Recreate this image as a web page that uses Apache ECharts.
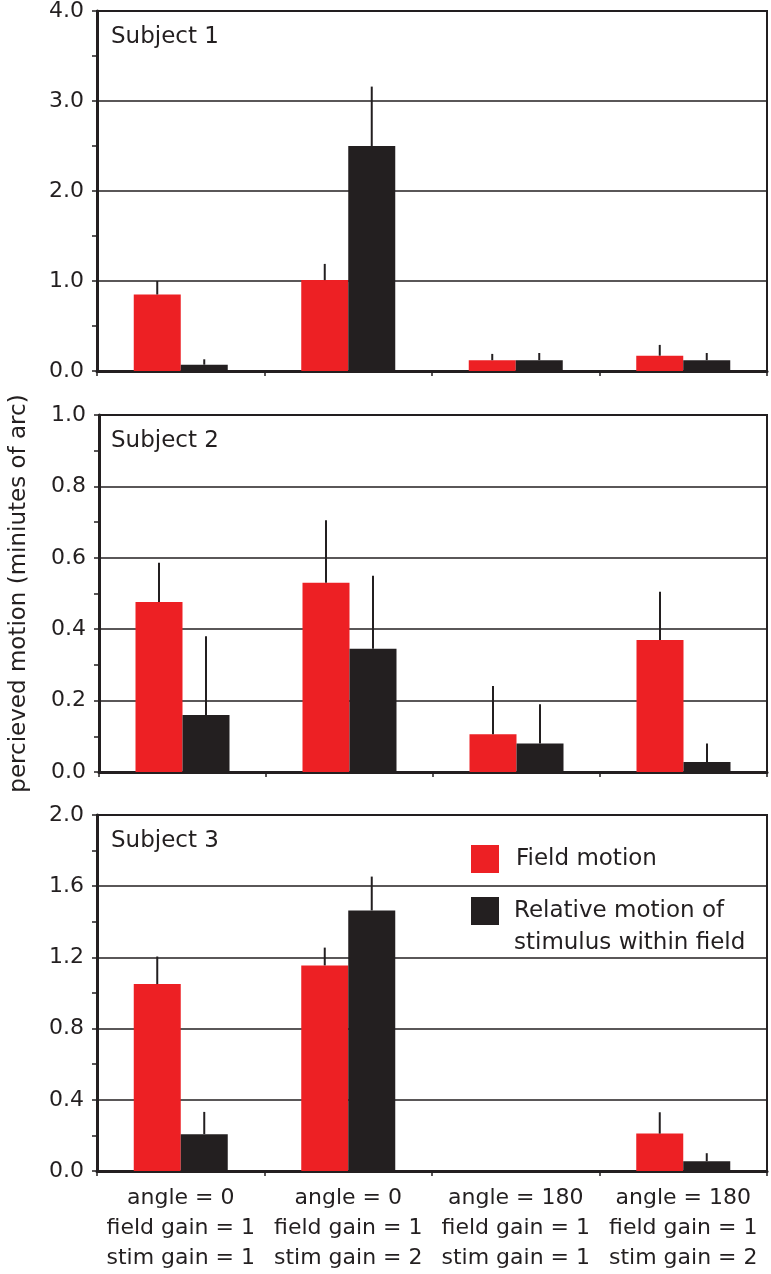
<!DOCTYPE html>
<html><head><meta charset="utf-8">
<script src="https://cdn.jsdelivr.net/npm/echarts@6/dist/echarts.min.js"></script>
<style>html,body{margin:0;padding:0;background:#fff}#c{width:771px;height:1274px}</style>
</head><body><div id="c"></div>
<script>
// ---- data ----
const categories = [
  'angle = 0\nfield gain = 1\nstim gain = 1',
  'angle = 0\nfield gain = 1\nstim gain = 2',
  'angle = 180\nfield gain = 1\nstim gain = 1',
  'angle = 180\nfield gain = 1\nstim gain = 2'
];
const subjects = ['Subject 1', 'Subject 2', 'Subject 3'];
const seriesNames = ['Field motion', 'Relative motion of\nstimulus within field'];
const yAxisTitle = 'percieved motion (miniutes of arc)';

const s1Field    = [0.85, 1.01, 0.12, 0.17];
const s1FieldErr = [0.15, 0.18, 0.07, 0.12];
const s1Rel      = [0.07, 2.50, 0.12, 0.12];
const s1RelErr   = [0.06, 0.66, 0.08, 0.08];

const s2Field    = [0.476, 0.53, 0.106, 0.37];
const s2FieldErr = [0.11, 0.175, 0.135, 0.135];
const s2Rel      = [0.16, 0.345, 0.08, 0.028];
const s2RelErr   = [0.22, 0.205, 0.11, 0.052];

const s3Field    = [1.05, 1.155, null, 0.21];
const s3FieldErr = [0.155, 0.10, null, 0.12];
const s3Rel      = [0.207, 1.464, null, 0.055];
const s3RelErr   = [0.125, 0.19, null, 0.045];

const yMax      = [4, 1, 2];
const yInterval = [1, 0.2, 0.4];

// ---- styling ----
const RED = '#ED2024';
const BLK = '#231F20';
const FONT = 'DejaVu Sans';
const BAR_W = 47;
const grids = [
  {left: 97, top: 11,  width: 670, height: 360},
  {left: 97, top: 415, width: 670, height: 357},
  {left: 97, top: 815, width: 670, height: 356}
];
const panels = [
  [s1Field, s1FieldErr, s1Rel, s1RelErr],
  [s2Field, s2FieldErr, s2Rel, s2RelErr],
  [s3Field, s3FieldErr, s3Rel, s3RelErr]
];

function errData(vals, errs) {
  const out = [];
  vals.forEach((v, i) => { if (v != null && errs[i] != null) out.push([i, v, errs[i]]); });
  return out;
}
function errRender(offset) {
  return function (params, api) {
    const c = api.value(0), v = api.value(1), e = api.value(2);
    const p0 = api.coord([c, v]);
    const p1 = api.coord([c, v + e]);
    const x = p0[0] + offset;
    return {type: 'line', shape: {x1: x, y1: p0[1], x2: x, y2: p1[1]},
      style: {stroke: BLK, lineWidth: 2}, z2: 10};
  };
}

const xAxis = [], yAxis = [], series = [], graphic = [];
grids.forEach((g, i) => {
  xAxis.push({
    type: 'category', gridIndex: i, data: categories, boundaryGap: true,
    axisLine: {show: true, lineStyle: {color: BLK, width: 3}},
    axisTick: {show: true, length: 5, interval: 0, alignWithLabel: false, lineStyle: {color: BLK, width: 1.5}},
    axisLabel: {show: i === 2, interval: 0, margin: 12, fontFamily: FONT, fontSize: 22, lineHeight: 30, color: BLK},
    splitLine: {show: false}
  });
  yAxis.push({
    type: 'value', gridIndex: i, min: 0, max: yMax[i], interval: yInterval[i],
    axisLine: {show: true, lineStyle: {color: BLK, width: 3}},
    axisTick: {show: true, length: 5, lineStyle: {color: BLK, width: 1.5}},
    minorTick: {show: true, splitNumber: 2, length: 5, lineStyle: {color: BLK, width: 1.5}},
    axisLabel: {margin: 13, fontFamily: FONT, fontSize: 22, color: BLK, formatter: v => v.toFixed(1)},
    splitLine: {show: true, lineStyle: {color: BLK, width: 1.5}},
    name: i === 1 ? yAxisTitle : '',
    nameLocation: 'middle', nameGap: 68,
    nameTextStyle: {fontFamily: FONT, fontSize: 23, color: BLK}
  });
  const [f, fe, r, re] = panels[i];
  series.push({type: 'bar', name: seriesNames[0], xAxisIndex: i, yAxisIndex: i, data: f,
    barWidth: BAR_W, barGap: '0%', itemStyle: {color: RED}, z: 2});
  series.push({type: 'bar', name: seriesNames[1], xAxisIndex: i, yAxisIndex: i, data: r,
    barWidth: BAR_W, barGap: '0%', itemStyle: {color: BLK}, z: 2});
  series.push({type: 'custom', name: 'errF' + i, xAxisIndex: i, yAxisIndex: i,
    data: errData(f, fe), encode: {x: 0, y: 1}, renderItem: errRender(-BAR_W / 2), z: 5});
  series.push({type: 'custom', name: 'errR' + i, xAxisIndex: i, yAxisIndex: i,
    data: errData(r, re), encode: {x: 0, y: 1}, renderItem: errRender(BAR_W / 2), z: 5});
  graphic.push({type: 'text', left: 111, top: g.top + 15,
    style: {text: subjects[i], fontFamily: FONT, fontSize: 23, fill: BLK}});
});

const chart = echarts.init(document.getElementById('c'), null, {renderer: 'canvas'});
chart.setOption({
  animation: false,
  backgroundColor: '#fff',
  grid: grids.map(g => Object.assign({show: true, borderColor: BLK, borderWidth: 2, containLabel: false}, g)),
  xAxis, yAxis, series, graphic,
  legend: {
    orient: 'vertical', left: 471, top: 843, padding: 0,
    itemWidth: 28, itemHeight: 28, itemGap: -12,
    icon: 'rect', selectedMode: false,
    // multi-line name: a leading blank line keeps its first line level with the swatch
    formatter: name => name.indexOf('\n') >= 0 ? ' \n' + name : name,
    textStyle: {fontFamily: FONT, fontSize: 23, color: BLK, lineHeight: 32, padding: [0, 0, 0, 12]},
    data: [
      {name: seriesNames[0]},
      {name: seriesNames[1], textStyle: {padding: [0, 0, 0, 10]}}
    ]
  }
});
</script></body></html>
